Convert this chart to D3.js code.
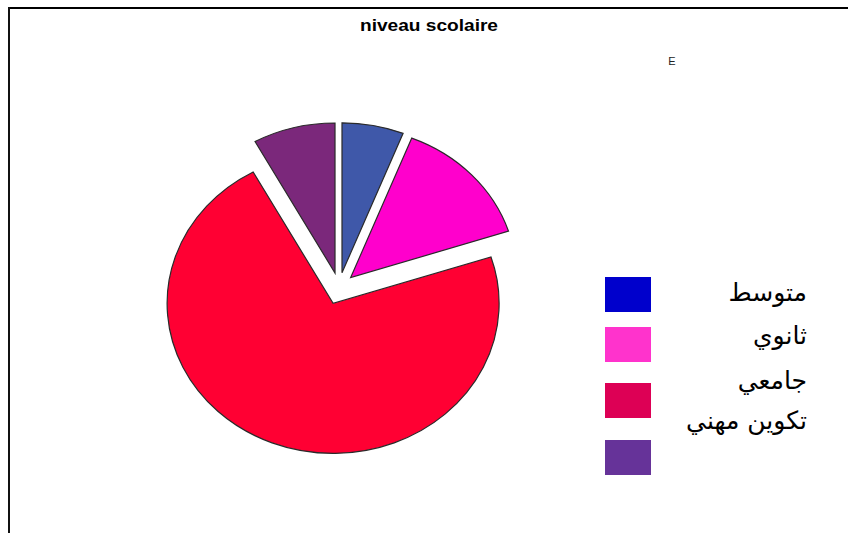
<!DOCTYPE html>
<html>
<head>
<meta charset="utf-8">
<script src="https://cdn.jsdelivr.net/npm/d3@7"></script>
<style>
  html, body { margin: 0; padding: 0; background: #fff; }
  svg { display: block; font-family: "Liberation Sans", Arial, sans-serif; }
</style>
</head>
<body>
<div id="chart"></div>
<script>
// niveau scolaire pie, SPSS-style: every slice pulled out a little, legend on the right.

const categories = ['متوسط', 'ثانوي', 'جامعي', 'تكوين مهني'];
const counts = [3, 7, 36, 4];
// slice fills and legend swatches differ slightly in the original output
const sliceColors = ['#3f58a9', '#ff00cc', '#ff0033', '#7b287b'];
const swatchColors = ['#0000cc', '#ff33cc', '#dd0055', '#663399'];

const width = 848, height = 533;
const svg = d3.select('#chart').append('svg').attr('width', width).attr('height', height);

// frame: top and left edges only are visible in the export
svg.append('line').attr('x1', 9).attr('x2', width).attr('y1', 8).attr('y2', 8).attr('stroke', '#000').attr('stroke-width', 2);
svg.append('line').attr('x1', 9).attr('x2', 9).attr('y1', 7).attr('y2', height).attr('stroke', '#111').attr('stroke-width', 2);

// the export is stretched sideways, so the title is widened to its measured length
svg.append('text').attr('x', 429).attr('y', 31).attr('text-anchor', 'middle')
  .attr('font-size', 16).attr('font-weight', 'bold')
  .attr('textLength', 138).attr('lengthAdjust', 'spacingAndGlyphs').text('niveau scolaire');
svg.append('text').attr('x', 672).attr('y', 65).attr('text-anchor', 'middle')
  .attr('font-size', 11).attr('fill', '#222').text('E');

// pie is drawn as a circle and stretched horizontally into an ellipse
const cx = 339, cy = 288.5, ry = 150, rx = 166, explode = 16;
const pie = d3.pie().sort(null).value(d => d)(counts);
const arc = d3.arc().innerRadius(0).outerRadius(ry);

const slices = svg.append('g').attr('transform', `translate(${cx},${cy})`)
  .selectAll('g').data(pie).enter().append('g')
  .attr('transform', d => {
    const mid = (d.startAngle + d.endAngle) / 2;
    return `translate(${Math.sin(mid) * explode},${-Math.cos(mid) * explode}) scale(${rx / ry},1)`;
  });
slices.append('path').attr('d', arc)
  .attr('fill', (d, i) => sliceColors[i])
  .attr('stroke', '#2a2a2a').attr('stroke-width', 1.2)
  .attr('vector-effect', 'non-scaling-stroke');

// legend: swatches and labels are not on the same rows in the source
const swatchY = [277, 327, 383, 440];
const labelY = [301, 344, 389, 429];
const legend = svg.append('g');
legend.selectAll('rect').data(categories).enter().append('rect')
  .attr('x', 605).attr('y', (d, i) => swatchY[i]).attr('width', 46).attr('height', 35)
  .attr('fill', (d, i) => swatchColors[i]);
legend.selectAll('text').data(categories).enter().append('text')
  .attr('x', 807).attr('y', (d, i) => labelY[i]).attr('text-anchor', 'end')
  .attr('font-family', '"DejaVu Sans", "Noto Sans", sans-serif')
  .attr('font-size', 25).attr('fill', '#000').text(d => d);
</script>
</body>
</html>
